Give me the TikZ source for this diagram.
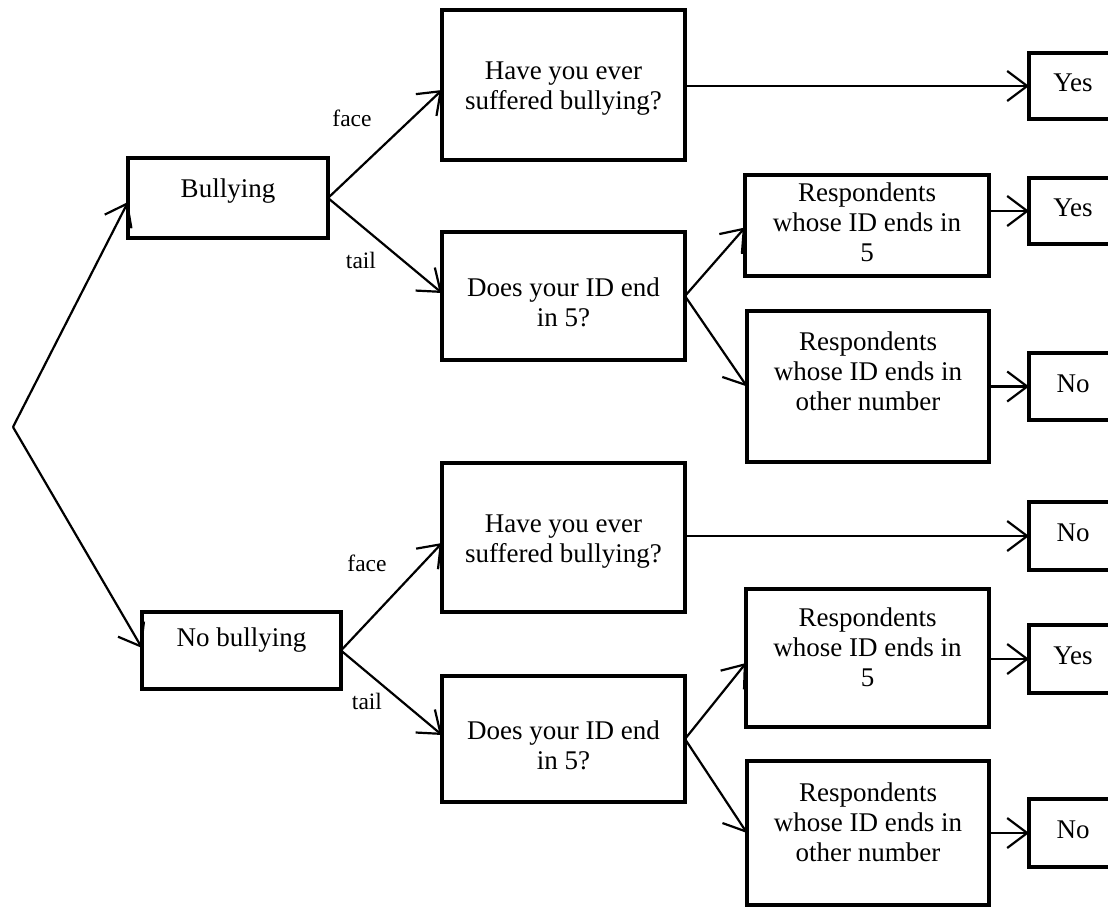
\documentclass[tikz,border=0pt]{standalone}
\usepackage{fontspec}
\setmainfont{Liberation Serif}
\usetikzlibrary{arrows.meta,calc,fit}
\begin{document}
\begin{tikzpicture}[x=1pt,y=-1pt,
  bx/.style={draw,line width=4pt,inner sep=0pt,outer sep=0pt},
  txt/.style={align=center,inner sep=0pt,font=\fontsize{27}{30}\selectfont},
  lbl/.style={inner sep=0pt,font=\fontsize{23.5}{26}\selectfont},
  arr/.style={line width=2.2pt,-{Straight Barb[length=20pt,width=30pt,line width=2.2pt]}}]
\useasboundingbox (0,0) rectangle (1108,906);
\clip (0,0) rectangle (1108,906);
% boxes
\node[bx, fit={(128,158) (328,238)}] (B1) {};
\node[bx, fit={(142,612) (341,689)}] (B2) {};
\node[bx, fit={(442,10) (685,160)}] (H1) {};
\node[bx, fit={(442,232) (685,360)}] (D1) {};
\node[bx, fit={(442,463) (685,612)}] (H2) {};
\node[bx, fit={(442,676) (685,802)}] (D2) {};
\node[bx, fit={(745,175) (989,276)}] (R1) {};
\node[bx, fit={(747,311) (989,462)}] (R2) {};
\node[bx, fit={(746,589) (989,727)}] (R3) {};
\node[bx, fit={(747,761) (989,905)}] (R4) {};
\node[bx, fit={(1029,53) (1117,119)}] (E1) {};
\node[bx, fit={(1029,178) (1117,244)}] (E2) {};
\node[bx, fit={(1029,353) (1117,420)}] (E3) {};
\node[bx, fit={(1029,502) (1117,570)}] (E4) {};
\node[bx, fit={(1029,625) (1117,693)}] (E5) {};
\node[bx, fit={(1029,799) (1117,867)}] (E6) {};
% texts
\node[txt] (tB1) at ($(B1)+(0,-7)$) {Bullying};
\node[txt] (tB2) at ($(B2)+(0,-10)$) {No bullying};
\node[txt] (tH1) at ($(H1)+(0,4)$) {Have you ever\\suffered bullying?};
\node[txt] (tD1) at ($(D1)+(0,6)$) {Does your ID end\\in 5?};
\node[txt] (tH2) at ($(H2)+(0,4)$) {Have you ever\\suffered bullying?};
\node[txt] (tD2) at ($(D2)+(0,6)$) {Does your ID end\\in 5?};
\node[txt] (tR1) at ($(R1)+(0,-3)$) {Respondents\\whose ID ends in\\5};
\node[txt] (tR2) at ($(R2)+(0,-15)$) {Respondents\\whose ID ends in\\other number};
\node[txt] (tR3) at ($(R3)+(0,-11)$) {Respondents\\whose ID ends in\\5};
\node[txt] (tR4) at ($(R4)+(0,-11)$) {Respondents\\whose ID ends in\\other number};
\node[txt] (tE1) at ($(E1)+(0,-3)$) {Yes};
\node[txt] (tE2) at ($(E2)+(0,-3)$) {Yes};
\node[txt] (tE3) at ($(E3)+(0,-3)$) {No};
\node[txt] (tE4) at ($(E4)+(0,-3)$) {No};
\node[txt] (tE5) at ($(E5)+(0,-3)$) {Yes};
\node[txt] (tE6) at ($(E6)+(0,-3)$) {No};
% labels
\node[lbl] (f1) at (352,118) {face};
\node[lbl] (t1) at (361,260) {tail};
\node[lbl] (f2) at (367,563) {face};
\node[lbl] (t2) at (367,701) {tail};
% connectors
\coordinate (V) at (13,427);
\draw[arr] (V) -- ([yshift=-4pt]B1.west);
\draw[arr] (V) -- ([yshift=2.5pt]B2.west);
\draw[arr] (B1.east) -- ([yshift=-5pt]H1.west);
\draw[arr] (B1.east) -- ([yshift=3pt]D1.west);
\draw[arr] (B2.east) -- ([yshift=-5.5pt]H2.west);
\draw[arr] (B2.east) -- ([yshift=4pt]D2.west);
\draw[arr] (D1.east) -- ([yshift=-2pt]R1.west);
\draw[arr] (D1.east) -- (R2.west);
\draw[arr] (D2.east) -- ([yshift=-5pt]R3.west);
\draw[arr] (D2.east) -- (R4.west);
\draw[arr] (H1.east |- E1.west) -- (E1.west);
\draw[arr] (R1.east |- E2.west) -- (E2.west);
\draw[arr] (R2.east |- E3.west) -- (E3.west);
\draw[arr] (H2.east |- E4.west) -- (E4.west);
\draw[arr] (R3.east |- E5.west) -- (E5.west);
\draw[arr] (R4.east |- E6.west) -- (E6.west);
\end{tikzpicture}
\end{document}
